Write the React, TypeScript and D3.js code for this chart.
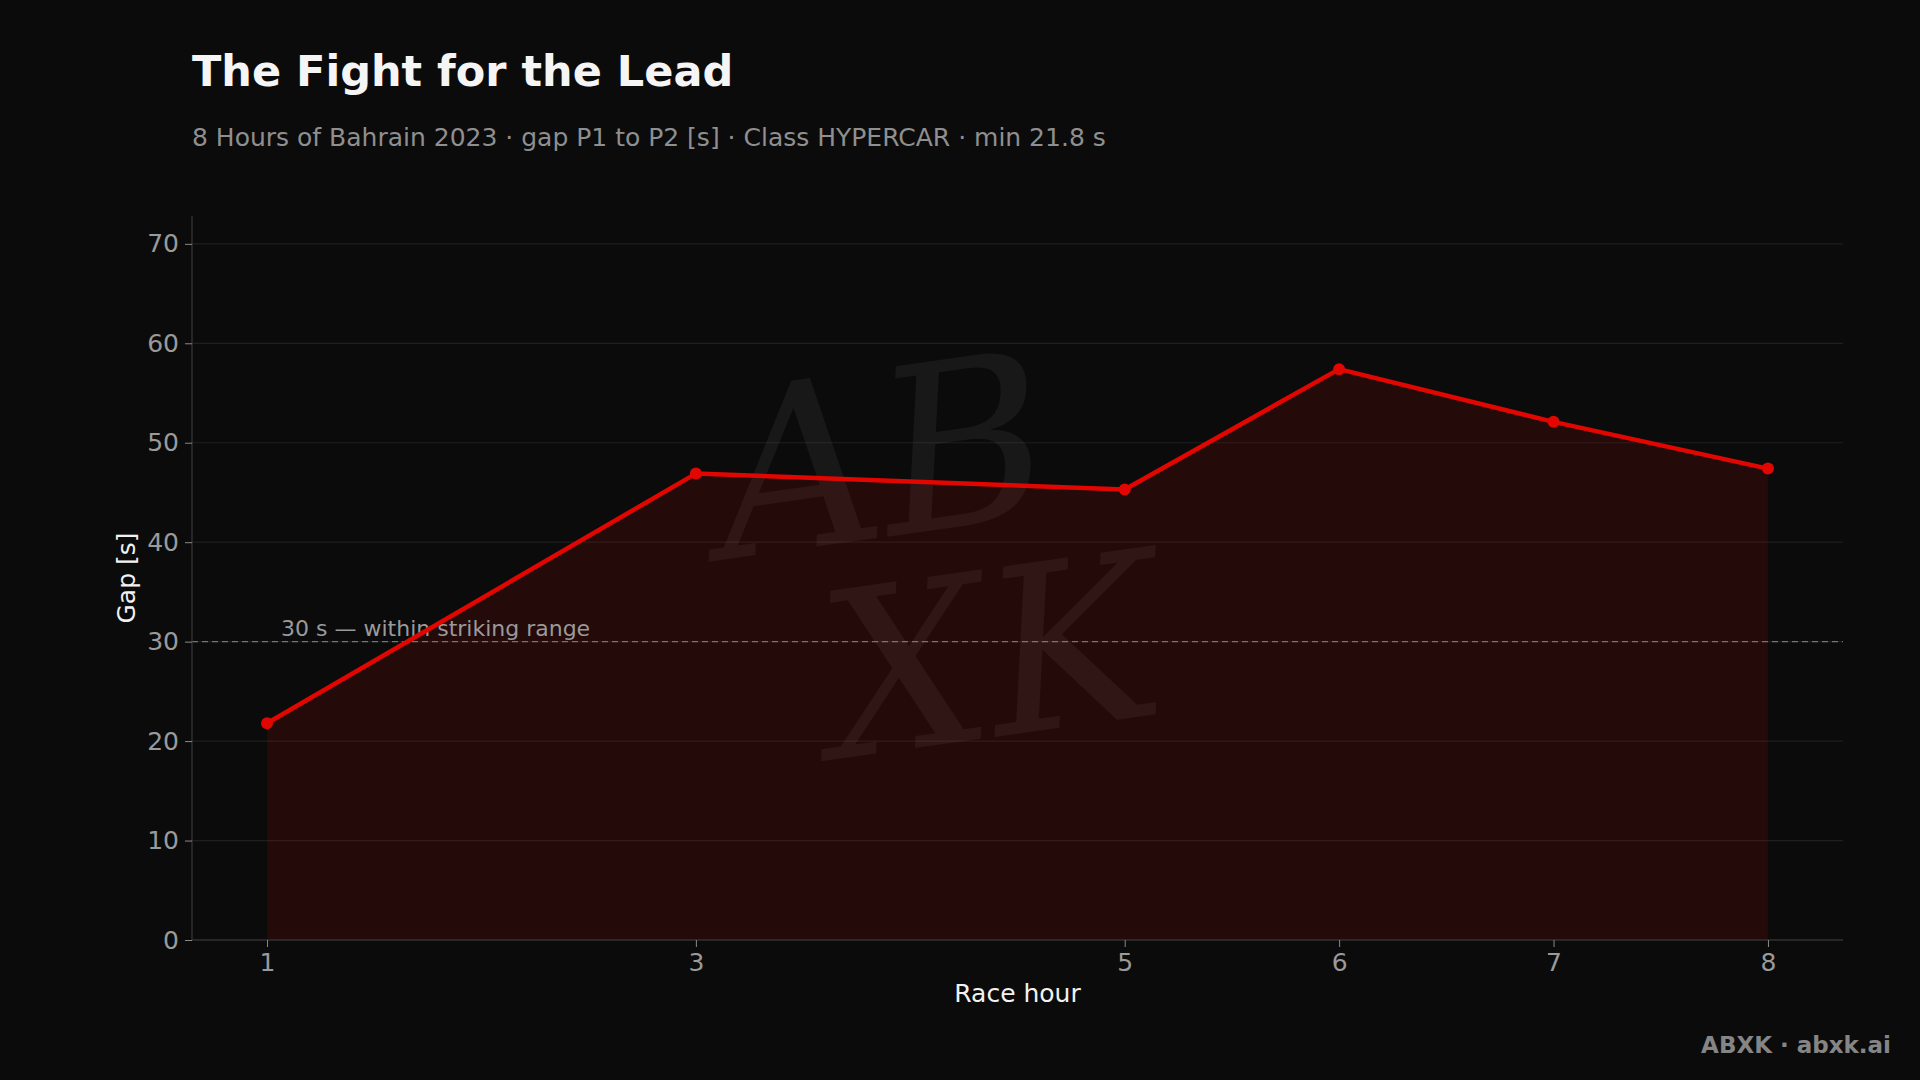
import React, { useEffect, useRef } from "react";
import * as d3 from "d3";

// race hours sampled and the P1-P2 gap [s] at each
const hours = [1, 3, 5, 6, 7, 8];
const gaps = [21.8, 46.9, 45.3, 57.4, 52.1, 47.4];
const yTicks = [0, 10, 20, 30, 40, 50, 60, 70];
const threshold = 30;
const thresholdLabel = "30 s — within striking range";

const title = "The Fight for the Lead";
const subtitle = "8 Hours of Bahrain 2023 · gap P1 to P2 [s] · Class HYPERCAR · min 21.8 s";
const footer = "ABXK · abxk.ai";

const W = 1920;
const H = 1080;
const FONT = "'DejaVu Sans', sans-serif";
const RED = "#e10600";

export default function App() {
    const ref = useRef<SVGSVGElement>(null);

    useEffect(() => {
        document.body.style.margin = "0";
        document.body.style.background = "#0b0b0b";
        if (!ref.current) return;
        const svg = d3.select(ref.current);
        svg.selectAll("*").remove();

        const margin = { top: 216, right: 77, bottom: 140, left: 192 };
        const innerW = W - margin.left - margin.right;
        const innerH = H - margin.top - margin.bottom;

        svg.append("rect").attr("width", W).attr("height", H).attr("fill", "#0b0b0b");

        const x = d3.scaleLinear().domain([0.65, 8.35]).range([0, innerW]);
        const y = d3.scaleLinear().domain([0, 72.8]).range([innerH, 0]);

        const g = svg.append("g").attr("transform", `translate(${margin.left},${margin.top})`);

        // grid
        g.append("g")
            .selectAll("line")
            .data(yTicks)
            .join("line")
            .attr("x1", 0).attr("x2", innerW)
            .attr("y1", d => y(d)).attr("y2", d => y(d))
            .attr("stroke", "#1f1f1f")
            .attr("stroke-width", 1.2);

        const pts = hours.map((h, i) => ({ h, v: gaps[i] }));

        // area under the line
        const area = d3.area<{ h: number; v: number }>()
            .x(d => x(d.h))
            .y0(y(0))
            .y1(d => y(d.v));
        g.append("path")
            .attr("d", area(pts))
            .attr("fill", RED)
            .attr("fill-opacity", 0.12);

        // watermark
        const wm = g.append("g")
            .attr("fill", "#ffffff")
            .attr("fill-opacity", 0.055)
            .attr("font-family", "'DejaVu Serif', serif")
            .attr("font-style", "italic")
            .attr("text-anchor", "middle");
        wm.append("text")
            .attr("x", 700).attr("y", 320)
            .attr("font-size", 230)
            .attr("transform", "rotate(-8 700 320)")
            .text("AB");
        wm.append("text")
            .attr("x", 810).attr("y", 520)
            .attr("font-size", 230)
            .attr("transform", "rotate(-8 810 520)")
            .text("XK");

        // threshold
        g.append("line")
            .attr("x1", 0).attr("x2", innerW)
            .attr("y1", y(threshold)).attr("y2", y(threshold))
            .attr("stroke", "#8a8a8a")
            .attr("stroke-opacity", 0.8)
            .attr("stroke-width", 1.3)
            .attr("stroke-dasharray", "6 4");
        g.append("text")
            .attr("x", x(1) + 14)
            .attr("y", y(threshold) - 6)
            .attr("font-family", FONT)
            .attr("font-size", 22)
            .attr("fill", "#9a9a9a")
            .text(thresholdLabel);

        // line + markers
        const line = d3.line<{ h: number; v: number }>()
            .x(d => x(d.h))
            .y(d => y(d.v));
        g.append("path")
            .attr("d", line(pts))
            .attr("fill", "none")
            .attr("stroke", RED)
            .attr("stroke-width", 4.5)
            .attr("stroke-linejoin", "round");
        g.append("g")
            .selectAll("circle")
            .data(pts)
            .join("circle")
            .attr("cx", d => x(d.h))
            .attr("cy", d => y(d.v))
            .attr("r", 6)
            .attr("fill", RED);

        // axes
        const xAxis = g.append("g")
            .attr("transform", `translate(0,${innerH})`)
            .call(d3.axisBottom(x).tickValues(hours).tickFormat(d3.format("d")).tickSize(7).tickPadding(6));
        const yAxis = g.append("g")
            .call(d3.axisLeft(y).tickValues(yTicks).tickSize(7).tickPadding(6));

        [xAxis, yAxis].forEach(a => {
            a.select(".domain").attr("stroke", "#3a3a3a").attr("stroke-width", 1.2);
            a.selectAll(".tick line").attr("stroke", "#8a8a8a");
            a.selectAll(".tick text")
                .attr("fill", "#9a9a9a")
                .attr("font-family", FONT)
                .attr("font-size", 25);
        });
        xAxis.select(".domain").attr("d", `M0,0H${innerW}`);
        yAxis.select(".domain").attr("d", `M0,${innerH}V0`);

        // axis labels
        svg.append("text")
            .attr("x", margin.left + innerW / 2)
            .attr("y", 1002)
            .attr("text-anchor", "middle")
            .attr("font-family", FONT)
            .attr("font-size", 25)
            .attr("fill", "#f2f2f2")
            .text("Race hour");
        svg.append("text")
            .attr("transform", `translate(135,${margin.top + innerH / 2 + 0}) rotate(-90)`)
            .attr("text-anchor", "middle")
            .attr("font-family", FONT)
            .attr("font-size", 25)
            .attr("fill", "#f2f2f2")
            .text("Gap [s]");

        // titles
        svg.append("text")
            .attr("x", 192).attr("y", 86)
            .attr("font-family", FONT)
            .attr("font-weight", "bold")
            .attr("font-size", 43)
            .attr("fill", "#f5f5f5")
            .text(title);
        svg.append("text")
            .attr("x", 192).attr("y", 146)
            .attr("font-family", FONT)
            .attr("font-size", 25)
            .attr("fill", "#8f8f8f")
            .text(subtitle);

        // footer
        svg.append("text")
            .attr("x", 1891).attr("y", 1053)
            .attr("text-anchor", "end")
            .attr("font-family", FONT)
            .attr("font-weight", "bold")
            .attr("font-size", 23)
            .attr("fill", "#858585")
            .text(footer);
    }, []);

    return (
        <svg
            ref={ref}
            width={W}
            height={H}
            viewBox={`0 0 ${W} ${H}`}
            style={{ display: "block", position: "absolute", left: 0, top: 0 }}
        />
    );
}
